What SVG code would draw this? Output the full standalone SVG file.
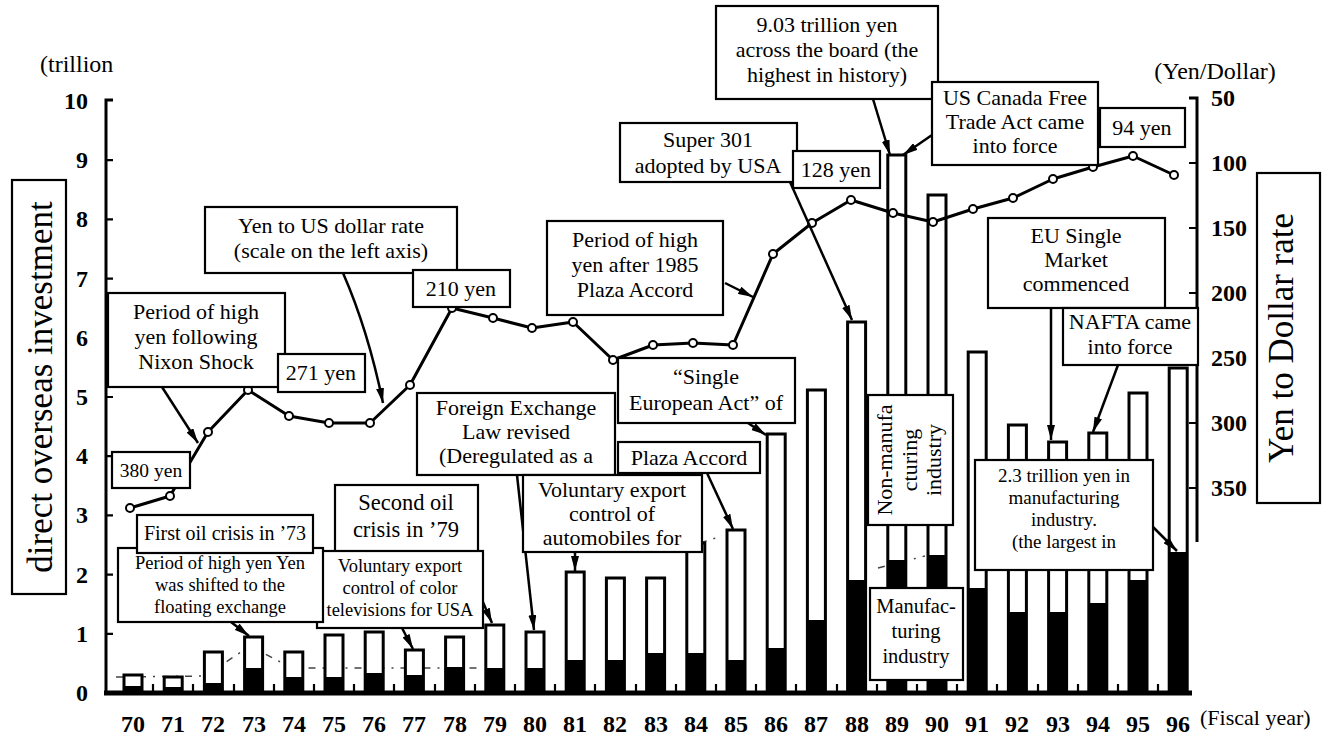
<svg xmlns="http://www.w3.org/2000/svg" width="1333" height="739" viewBox="0 0 1333 739">
<defs>
<style>
.box{fill:#fff;stroke:#000;stroke-width:2.2}
.t{font-family:"Liberation Serif","Times New Roman",serif;font-size:22px;fill:#000;text-anchor:middle}
.num{font-family:"Liberation Serif","Times New Roman",serif;font-weight:bold;font-size:24px;fill:#000}
.ttl{font-family:"Liberation Serif","Times New Roman",serif;font-size:35px;fill:#000;text-anchor:middle}
.unit{font-family:"Liberation Serif","Times New Roman",serif;fill:#000}
.bar{fill:#fff;stroke:#000;stroke-width:3}
.mf{fill:#000}
.ax{stroke:#000;stroke-width:3;fill:none}
.tk{stroke:#000;stroke-width:2.2;fill:none}
.arr{stroke:#000;stroke-width:2.5;fill:none;marker-end:url(#ah)}
.rate{stroke:#000;stroke-width:3;fill:none;stroke-linejoin:round}
.pt{fill:#fff;stroke:#000;stroke-width:2}
.dd{stroke:#444;stroke-width:1.5;fill:none;stroke-dasharray:7 7 2 7}
</style>
<marker id="ah" markerWidth="15" markerHeight="8" refX="15" refY="4" orient="auto" markerUnits="userSpaceOnUse">
<path d="M0,0 L15,4 L0,8 Z" fill="#000"/>
</marker>
</defs>
<rect width="1333" height="739" fill="#fff"/>

<g id="share-line">
<path class="dd" d="M116,677 L205,676 L250,646 L292,668 L480,668"/>
<path class="dd" d="M700,543 L722,536M878,568 L925,556"/>
</g>

<g id="axes">
<path class="ax" d="M113,100 L106,100 L106,693"/>
<path class="tk" d="M106,160.2h7M106,219.4h7M106,278.6h7M106,337.8h7M106,397h7M106,456.2h7M106,515.4h7M106,574.6h7M106,633.8h7"/>
<line x1="104" y1="693" x2="1192" y2="693" stroke="#000" stroke-width="5"/>
<path class="tk" d="M153,684v9M193,684v9M234,684v9M274,684v9M314,684v9M354,684v9M394,684v9M435,684v9M475,684v9M515,684v9M555,684v9M595,684v9M636,684v9M676,684v9M716,684v9M756,684v9M796,684v9M837,684v9M877,684v9M917,684v9M957,684v9M997,684v9M1038,684v9M1078,684v9M1118,684v9M1158,684v9"/>
<path class="ax" d="M1189,98 L1197,98 L1197,542"/>
<path class="tk" d="M1189,163h8M1189,228h8M1189,293h8M1189,358h8M1189,423h8M1189,488h8"/>
<g class="num" text-anchor="end">
<text x="88" y="109">10</text><text x="88" y="168">9</text><text x="88" y="227">8</text><text x="88" y="287">7</text><text x="88" y="346">6</text><text x="88" y="405">5</text><text x="88" y="464">4</text><text x="88" y="523">3</text><text x="88" y="583">2</text><text x="88" y="642">1</text><text x="88" y="701">0</text>
</g>
<g class="num">
<text x="1211" y="106">50</text><text x="1211" y="171">100</text><text x="1211" y="236">150</text><text x="1211" y="301">200</text><text x="1211" y="366">250</text><text x="1211" y="431">300</text><text x="1211" y="496">350</text>
</g>
<g class="num" text-anchor="middle">
<text x="133" y="732">70</text><text x="173" y="732">71</text><text x="213" y="732">72</text><text x="254" y="732">73</text><text x="294" y="732">74</text><text x="334" y="732">75</text><text x="374" y="732">76</text><text x="414" y="732">77</text><text x="455" y="732">78</text><text x="495" y="732">79</text><text x="535" y="732">80</text><text x="575" y="732">81</text><text x="615" y="732">82</text><text x="656" y="732">83</text><text x="696" y="732">84</text><text x="736" y="732">85</text><text x="776" y="732">86</text><text x="816" y="732">87</text><text x="857" y="732">88</text><text x="897" y="732">89</text><text x="937" y="732">90</text><text x="977" y="732">91</text><text x="1017" y="732">92</text><text x="1058" y="732">93</text><text x="1098" y="732">94</text><text x="1138" y="732">95</text><text x="1178" y="732">96</text>
</g>
<text class="unit" x="40" y="72" font-size="24">(trillion</text>
<text class="unit" x="1215" y="79" font-size="24" text-anchor="middle">(Yen/Dollar)</text>
<text class="unit" x="1200" y="725" font-size="22">(Fiscal year)</text>
</g>

<g id="title-left">
<rect class="box" x="12" y="180" width="54" height="414"/>
<text class="ttl" transform="translate(52,387) rotate(-90)">direct overseas investment</text>
</g>
<g id="title-right">
<rect class="box" x="1257" y="173" width="63" height="330"/>
<text class="ttl" transform="translate(1293,338) rotate(-90)">Yen to Dollar rate</text>
</g>

<g id="bars">
<rect class="bar" x="124" y="675" width="18" height="18"/><rect class="mf" x="124" y="686" width="18" height="7"/>
<rect class="bar" x="164.2" y="677" width="18" height="16"/><rect class="mf" x="164.2" y="687" width="18" height="6"/>
<rect class="bar" x="204.4" y="652" width="18" height="41"/><rect class="mf" x="204.4" y="683" width="18" height="10"/>
<rect class="bar" x="244.6" y="637" width="18" height="56"/><rect class="mf" x="244.6" y="668" width="18" height="25"/>
<rect class="bar" x="284.8" y="652" width="18" height="41"/><rect class="mf" x="284.8" y="677" width="18" height="16"/>
<rect class="bar" x="325" y="635" width="18" height="58"/><rect class="mf" x="325" y="677" width="18" height="16"/>
<rect class="bar" x="365.2" y="632" width="18" height="61"/><rect class="mf" x="365.2" y="673" width="18" height="20"/>
<rect class="bar" x="405.4" y="650" width="18" height="43"/><rect class="mf" x="405.4" y="675" width="18" height="18"/>
<rect class="bar" x="445.6" y="637" width="18" height="56"/><rect class="mf" x="445.6" y="667" width="18" height="26"/>
<rect class="bar" x="485.8" y="625" width="18" height="68"/><rect class="mf" x="485.8" y="668" width="18" height="25"/>
<rect class="bar" x="526" y="632" width="18" height="61"/><rect class="mf" x="526" y="668" width="18" height="25"/>
<rect class="bar" x="566.2" y="572" width="18" height="121"/><rect class="mf" x="566.2" y="660" width="18" height="33"/>
<rect class="bar" x="606.4" y="578" width="18" height="115"/><rect class="mf" x="606.4" y="660" width="18" height="33"/>
<rect class="bar" x="646.6" y="578" width="18" height="115"/><rect class="mf" x="646.6" y="653" width="18" height="40"/>
<rect class="bar" x="686.8" y="543" width="18" height="150"/><rect class="mf" x="686.8" y="653" width="18" height="40"/>
<rect class="bar" x="727" y="530" width="18" height="163"/><rect class="mf" x="727" y="660" width="18" height="33"/>
<rect class="bar" x="767.2" y="434" width="18" height="259"/><rect class="mf" x="767.2" y="648" width="18" height="45"/>
<rect class="bar" x="807.4" y="390" width="18" height="303"/><rect class="mf" x="807.4" y="620" width="18" height="73"/>
<rect class="bar" x="847.6" y="322" width="18" height="371"/><rect class="mf" x="847.6" y="580" width="18" height="113"/>
<rect class="bar" x="887.8" y="155" width="18" height="538"/><rect class="mf" x="887.8" y="560" width="18" height="133"/>
<rect class="bar" x="928" y="195" width="18" height="498"/><rect class="mf" x="928" y="555" width="18" height="138"/>
<rect class="bar" x="968.2" y="352" width="18" height="341"/><rect class="mf" x="968.2" y="588" width="18" height="105"/>
<rect class="bar" x="1008.4" y="425" width="18" height="268"/><rect class="mf" x="1008.4" y="612" width="18" height="81"/>
<rect class="bar" x="1048.6" y="442" width="18" height="251"/><rect class="mf" x="1048.6" y="612" width="18" height="81"/>
<rect class="bar" x="1088.8" y="433" width="18" height="260"/><rect class="mf" x="1088.8" y="603" width="18" height="90"/>
<rect class="bar" x="1129" y="393" width="18" height="300"/><rect class="mf" x="1129" y="580" width="18" height="113"/>
<rect class="bar" x="1169.2" y="368" width="18" height="325"/><rect class="mf" x="1169.2" y="552" width="18" height="141"/>
</g>

<g id="rate-line">
<polyline class="rate" points="130,508 170,496 208,432 248,390 289,416 329,423 370,423 410,385 452,308 493,318 532,328 573,322 613,360 653,345 693,343 733,345 773,254 812,223 851,200 893,213 933,222 973,209 1013,198 1053,179 1093,167 1133,156 1174,175"/>
<g class="pt">
<circle cx="130" cy="508" r="4"/><circle cx="170" cy="496" r="4"/><circle cx="208" cy="432" r="4"/><circle cx="248" cy="390" r="4"/><circle cx="289" cy="416" r="4"/><circle cx="329" cy="423" r="4"/><circle cx="370" cy="423" r="4"/><circle cx="410" cy="385" r="4"/><circle cx="452" cy="308" r="4"/><circle cx="493" cy="318" r="4"/><circle cx="532" cy="328" r="4"/><circle cx="573" cy="322" r="4"/><circle cx="613" cy="360" r="4"/><circle cx="653" cy="345" r="4"/><circle cx="693" cy="343" r="4"/><circle cx="733" cy="345" r="4"/><circle cx="773" cy="254" r="4"/><circle cx="812" cy="223" r="4"/><circle cx="851" cy="200" r="4"/><circle cx="893" cy="213" r="4"/><circle cx="933" cy="222" r="4"/><circle cx="973" cy="209" r="4"/><circle cx="1013" cy="198" r="4"/><circle cx="1053" cy="179" r="4"/><circle cx="1093" cy="167" r="4"/><circle cx="1133" cy="156" r="4"/><circle cx="1174" cy="175" r="4"/>
</g>
</g>

<g id="connectors">
<path class="arr" d="M162,387 L198,443"/>
<path class="arr" d="M343,273 Q368,330 383,403"/>
<path class="arr" d="M725,283 L753,297"/>
<path class="arr" d="M790,182 L852,320"/>
<path class="arr" d="M873,99 L890,155"/>
<path class="arr" d="M932,135 L903,155"/>
<path class="arr" d="M1051,308 L1051,440"/>
<path class="arr" d="M1118,365 L1093,432"/>
<path class="arr" d="M1153,527 L1177,551"/>
<path class="arr" d="M748,423 L766,435"/>
<path class="arr" d="M707,473 L733,529"/>
<path class="arr" d="M517,475 L534,630"/>
<path class="arr" d="M575,552 L575,571"/>
<path class="arr" d="M402,628 L413,649"/>
<path class="arr" d="M482,600 L492,623"/>
<path class="arr" d="M231,622 L249,636"/>
</g>

<g id="n-nixon">
<rect class="box" x="108" y="293" width="177" height="94"/>
<text class="t" x="196" y="319">Period of high</text><text class="t" x="196" y="344">yen following</text><text class="t" x="196" y="369">Nixon Shock</text>
</g>
<g id="n-271">
<rect class="box" x="278" y="354" width="87" height="38"/>
<text class="t" x="321" y="380">271 yen</text>
</g>
<g id="n-rate">
<rect class="box" x="205" y="207" width="252" height="66"/>
<text class="t" x="331" y="233">Yen to US dollar rate</text><text class="t" x="331" y="258">(scale on the left axis)</text>
</g>
<g id="n-210">
<rect class="box" x="413" y="270" width="97" height="37"/>
<text class="t" x="461" y="296">210 yen</text>
</g>
<g id="n-plaza-period">
<rect class="box" x="547" y="221" width="176" height="94"/>
<text class="t" x="635" y="247">Period of high</text><text class="t" x="635" y="272">yen after 1985</text><text class="t" x="635" y="297">Plaza Accord</text>
</g>
<g id="n-super301">
<rect class="box" x="620" y="123" width="177" height="59"/>
<text class="t" x="708" y="147">Super 301</text><text class="t" x="708" y="173">adopted by USA</text>
</g>
<g id="n-128">
<rect class="box" x="793" y="151" width="87" height="37"/>
<text class="t" x="836" y="177">128 yen</text>
</g>
<g id="n-903">
<rect class="box" x="716" y="6" width="222" height="93"/>
<text class="t" x="827" y="32">9.03 trillion yen</text><text class="t" x="827" y="57">across the board (the</text><text class="t" x="827" y="82">highest in history)</text>
</g>
<g id="n-uscanada">
<rect class="box" x="932" y="82" width="166" height="83"/>
<text class="t" x="1015" y="105">US Canada Free</text><text class="t" x="1015" y="129">Trade Act came</text><text class="t" x="1015" y="153">into force</text>
</g>
<g id="n-94">
<rect class="box" x="1100" y="108" width="85" height="39"/>
<text class="t" x="1142" y="135">94 yen</text>
</g>
<g id="n-eu">
<rect class="box" x="988" y="218" width="177" height="90"/>
<text class="t" x="1076" y="243">EU Single</text><text class="t" x="1076" y="267">Market</text><text class="t" x="1076" y="291">commenced</text>
</g>
<g id="n-nafta">
<rect class="box" x="1063" y="308" width="135" height="57"/>
<text class="t" x="1130" y="329">NAFTA came</text><text class="t" x="1130" y="354">into force</text>
</g>
<g id="n-23">
<rect class="box" x="975" y="460" width="178" height="110"/>
<g class="t" style="font-size:19px"><text x="1064" y="482">2.3 trillion yen in</text><text x="1064" y="504">manufacturing</text><text x="1064" y="526">industry.</text><text x="1064" y="548">(the largest in</text></g>
</g>
<g id="n-nonmanuf">
<rect class="box" x="868" y="395" width="85" height="130"/>
<text class="t" transform="translate(892,460) rotate(-90)">Non-manufa</text>
<text class="t" transform="translate(917,460) rotate(-90)">cturing</text>
<text class="t" transform="translate(941,460) rotate(-90)">industry</text>
</g>
<g id="n-manuf">
<rect class="box" x="870" y="588" width="93" height="92"/>
<g class="t" style="font-size:20.5px"><text x="916" y="613">Manufac-</text><text x="916" y="638">turing</text><text x="916" y="663">industry</text></g>
</g>
<g id="n-sea">
<rect class="box" x="618" y="358" width="177" height="65"/>
<text class="t" x="706" y="384">“Single</text><text class="t" x="706" y="410">European Act” of</text>
</g>
<g id="n-plaza">
<rect class="box" x="618" y="442" width="142" height="31"/>
<text class="t" x="689" y="465">Plaza Accord</text>
</g>
<g id="n-forex">
<rect class="box" x="417" y="393" width="198" height="82"/>
<text class="t" x="516" y="415">Foreign Exchange</text><text class="t" x="516" y="439">Law revised</text><text class="t" x="516" y="463">(Deregulated as a</text>
</g>
<g id="n-auto">
<rect class="box" x="523" y="475" width="179" height="77"/>
<text class="t" x="612" y="497">Voluntary export</text><text class="t" x="612" y="521">control of</text><text class="t" x="612" y="545">automobiles for</text>
</g>
<g id="n-oil2">
<rect class="box" x="335" y="485" width="143" height="67"/>
<g class="t" style="font-size:22.5px"><text x="406" y="510">Second oil</text><text x="406" y="537">crisis in ’79</text></g>
</g>
<g id="n-tv">
<rect class="box" x="317" y="551" width="166" height="77"/>
<g class="t" style="font-size:18.5px"><text x="400" y="572">Voluntary export</text><text x="400" y="594">control of color</text><text x="400" y="616">televisions for USA</text></g>
</g>
<g id="n-floating">
<rect class="box" x="118" y="548" width="205" height="74"/>
<g class="t" style="font-size:18.5px"><text x="220" y="569">Period of high yen Yen</text><text x="220" y="591">was shifted to the</text><text x="220" y="613">floating exchange</text></g>
</g>
<g id="n-oil1">
<rect class="box" x="137" y="515" width="176" height="38"/>
<text class="t" x="225" y="540" style="font-size:20px">First oil crisis in ’73</text>
</g>
<g id="n-380">
<rect class="box" x="112" y="452" width="78" height="36"/>
<text class="t" x="151" y="477" style="font-size:19.5px">380 yen</text>
</g>
</svg>
